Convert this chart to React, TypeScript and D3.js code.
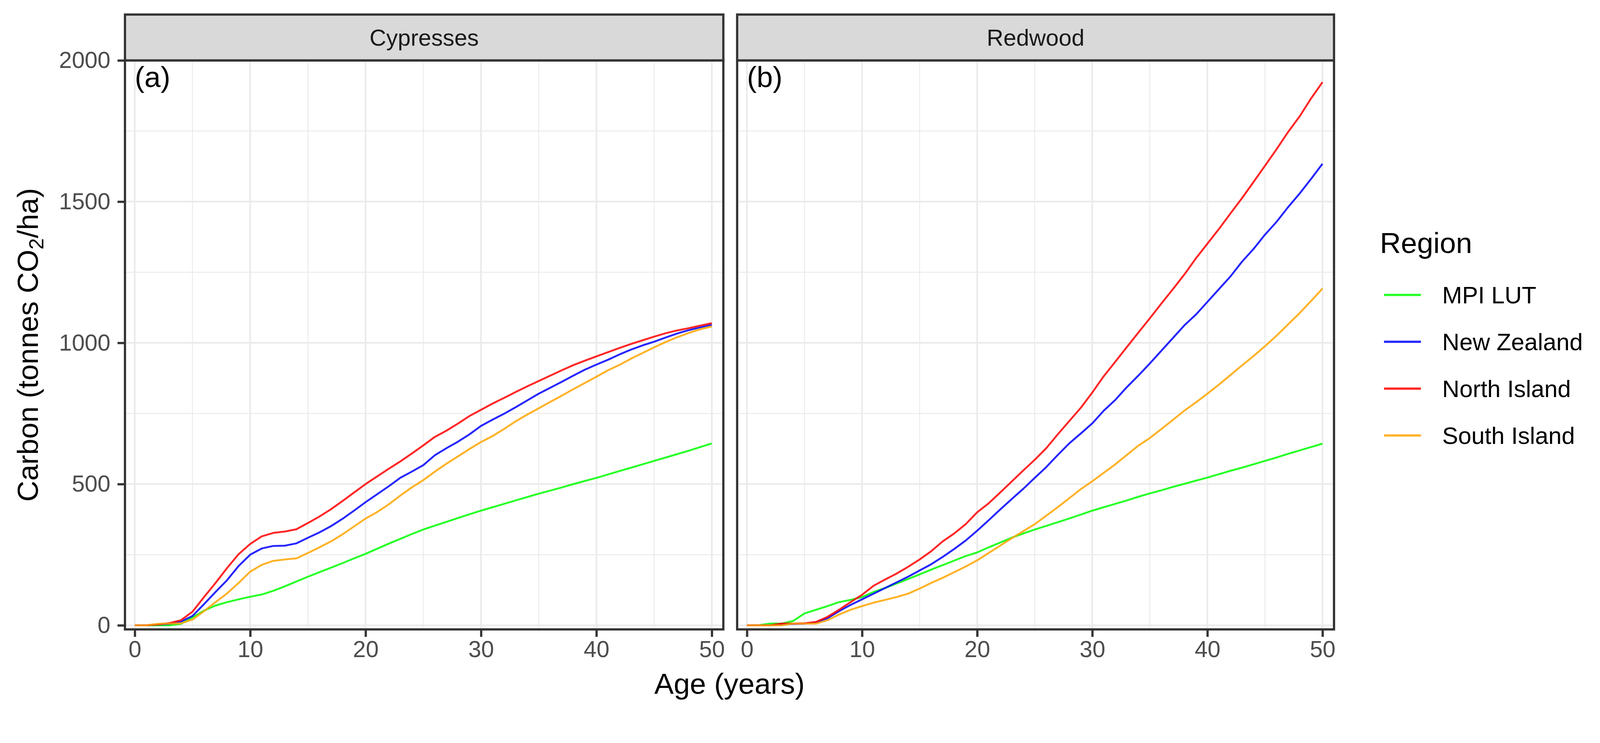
import { useEffect, useRef } from 'react';
import * as d3 from 'd3';

// Stand age in years (x values shared by every series)
const AGES = [
  0, 1, 2, 3, 4, 5, 6, 7, 8, 9, 10, 11, 12, 13, 14, 15, 16, 17, 18, 19, 20,
  21, 22, 23, 24, 25, 26, 27, 28, 29, 30, 31, 32, 33, 34, 35, 36, 37, 38, 39, 40,
  41, 42, 43, 44, 45, 46, 47, 48, 49, 50,
];

const REGIONS = ['MPI LUT', 'New Zealand', 'North Island', 'South Island'];
const REGION_COLORS = ['#00FF00', '#0000FF', '#FF0000', '#FFA500'];
const PANELS = ['Cypresses', 'Redwood'];
const PANEL_TAGS = ['(a)', '(b)'];
const X_TICKS = [0, 10, 20, 30, 40, 50];
const X_MINOR = [5, 15, 25, 35, 45];
const Y_TICKS = [0, 500, 1000, 1500, 2000];
const Y_MINOR = [250, 750, 1250, 1750];

// Cypresses, carbon (tonnes CO2/ha) by age
const CYP_MPI = [
  0, 0, 0, 0, 5, 28, 52, 70, 82, 92, 101, 109, 122, 138, 155, 172, 188, 204, 220, 237, 253,
  271, 289, 306, 323, 339, 353, 366, 380, 393, 406, 418, 430, 442, 454, 466, 477, 488, 500, 511, 522,
  534, 546, 558, 570, 582, 594, 606, 618, 631, 644,
];
const CYP_NZ = [
  0, 0, 3, 5, 13, 33, 75, 118, 160, 210, 250, 272, 281, 282, 290, 310, 329, 351, 377, 406, 436,
  464, 492, 522, 544, 567, 602, 627, 650, 676, 706, 728, 749, 772, 796, 820, 841, 862, 884, 905, 923,
  940, 959, 976, 991, 1004, 1019, 1033, 1045, 1055, 1064,
];
const CYP_NI = [
  0, 0, 3, 8, 18, 48, 100, 150, 203, 252, 288, 315, 327, 332, 340, 362, 385, 411, 440, 470, 500,
  527, 554, 580, 608, 637, 667, 689, 714, 741, 763, 785, 805, 826, 846, 865, 884, 903, 921, 937, 952,
  967, 982, 996, 1009, 1022, 1034, 1044, 1052, 1061, 1070,
];
const CYP_SI = [
  0, 0, 5, 6, 7, 20, 50, 82, 113, 150, 190, 214, 228, 233, 237, 256, 276, 297, 322, 350, 378,
  401, 428, 459, 488, 514, 544, 572, 598, 624, 649, 670, 695, 722, 746, 768, 791, 813, 836, 858, 880,
  903, 922, 944, 964, 984, 1003, 1020, 1035, 1048, 1058,
];

// Redwood, carbon (tonnes CO2/ha) by age
const RW_MPI = [
  0, 0, 6, 6, 15, 42, 55, 68, 82, 90, 100, 118, 132, 148, 164, 180, 197, 213, 229, 245, 258,
  276, 293, 310, 325, 339, 352, 365, 378, 392, 406, 418, 430, 442, 455, 467, 478, 490, 501, 512, 523,
  535, 547, 558, 570, 582, 594, 607, 619, 631, 643,
];
const RW_NZ = [
  0, 0, 0, 3, 5, 6, 10, 25, 50, 72, 92, 112, 132, 152, 172, 194, 216, 242, 270, 300, 335,
  372, 410, 447, 483, 522, 560, 603, 644, 679, 715, 760, 798, 843, 884, 927, 972, 1017, 1062, 1100, 1145,
  1190, 1235, 1287, 1332, 1383, 1428, 1480, 1528, 1580, 1634,
];
const RW_NI = [
  0, 0, 0, 6, 6, 7, 12, 30, 55, 82, 108, 140, 162, 183, 207, 233, 262, 297, 325, 358, 400,
  432, 470, 509, 548, 586, 627, 676, 723, 770, 824, 882, 933, 985, 1036, 1087, 1139, 1190, 1242, 1299, 1351,
  1403, 1458, 1512, 1569, 1627, 1685, 1746, 1801, 1865, 1923,
];
const RW_SI = [
  0, 0, 0, 0, 6, 6, 6, 18, 38, 55, 68, 80, 90, 100, 112, 130, 150, 168, 188, 208, 230,
  256, 282, 308, 333, 358, 388, 418, 450, 482, 510, 540, 570, 603, 636, 663, 695, 727, 760, 789, 820,
  852, 886, 920, 953, 988, 1025, 1065, 1105, 1148, 1192,
];

const PANEL_SERIES = [
  [CYP_MPI, CYP_NZ, CYP_NI, CYP_SI],
  [RW_MPI, RW_NZ, RW_NI, RW_SI],
];

const FONT = "'Liberation Sans', Arial, Helvetica, sans-serif";

export default function App() {
  const svgRef = useRef<SVGSVGElement>(null);

  useEffect(() => {
    if (!svgRef.current) return;
    const svg = d3.select(svgRef.current);
    svg.selectAll('*').remove();

    const STRIP_TOP = 39, PANEL_TOP = 162, PANEL_BOTTOM = 1688;
    const boxes = [{ x0: 335, x1: 1939 }, { x0: 1976, x1: 3576 }];
    const BORDER = '#333333';

    const y = d3.scaleLinear().domain([-14.5, 2000]).range([PANEL_BOTTOM, PANEL_TOP]);

    PANELS.forEach((name, i) => {
      const { x0, x1 } = boxes[i];
      const x = d3.scaleLinear().domain([-0.85, 51]).range([x0, x1]);
      const g = svg.append('g');

      g.append('rect')
        .attr('x', x0).attr('y', PANEL_TOP)
        .attr('width', x1 - x0).attr('height', PANEL_BOTTOM - PANEL_TOP)
        .attr('fill', '#FFFFFF');

      // Grid
      const grid = g.append('g').attr('stroke', '#EBEBEB');
      X_MINOR.forEach((t) => grid.append('line')
        .attr('x1', x(t)).attr('x2', x(t)).attr('y1', PANEL_TOP).attr('y2', PANEL_BOTTOM)
        .attr('stroke-width', 2.5));
      Y_MINOR.forEach((t) => grid.append('line')
        .attr('x1', x0).attr('x2', x1).attr('y1', y(t)).attr('y2', y(t))
        .attr('stroke-width', 2.5));
      X_TICKS.forEach((t) => grid.append('line')
        .attr('x1', x(t)).attr('x2', x(t)).attr('y1', PANEL_TOP).attr('y2', PANEL_BOTTOM)
        .attr('stroke-width', 4.5));
      Y_TICKS.forEach((t) => grid.append('line')
        .attr('x1', x0).attr('x2', x1).attr('y1', y(t)).attr('y2', y(t))
        .attr('stroke-width', 4.5));

      // Lines
      const line = d3.line<number>()
        .x((_, k) => x(AGES[k]))
        .y((d) => y(d));
      PANEL_SERIES[i].forEach((vals, s) => {
        g.append('path')
          .datum(vals)
          .attr('d', line)
          .attr('fill', 'none')
          .attr('stroke', REGION_COLORS[s])
          .attr('stroke-opacity', 0.85)
          .attr('stroke-width', 5)
          .attr('stroke-linejoin', 'round');
      });

      // Panel tag
      g.append('text')
        .attr('x', x(0)).attr('y', 233)
        .attr('font-family', FONT).attr('font-size', 78)
        .attr('fill', '#000000')
        .text(PANEL_TAGS[i]);

      // Border
      g.append('rect')
        .attr('x', x0).attr('y', PANEL_TOP)
        .attr('width', x1 - x0).attr('height', PANEL_BOTTOM - PANEL_TOP)
        .attr('fill', 'none').attr('stroke', BORDER).attr('stroke-width', 6);

      // Strip
      g.append('rect')
        .attr('x', x0).attr('y', STRIP_TOP)
        .attr('width', x1 - x0).attr('height', PANEL_TOP - STRIP_TOP)
        .attr('fill', '#D9D9D9').attr('stroke', BORDER).attr('stroke-width', 6);
      g.append('text')
        .attr('x', (x0 + x1) / 2).attr('y', 123)
        .attr('text-anchor', 'middle')
        .attr('font-family', FONT).attr('font-size', 62)
        .attr('fill', '#1A1A1A')
        .text(name);

      // X axis
      const xAxis = g.append('g')
        .attr('transform', `translate(0,${PANEL_BOTTOM})`)
        .call(d3.axisBottom(x).tickValues(X_TICKS).tickFormat(d3.format('d')).tickSize(20).tickPadding(10));
      xAxis.select('.domain').remove();
      xAxis.selectAll('line').attr('stroke', BORDER).attr('stroke-width', 6);
      xAxis.selectAll('text')
        .attr('font-family', FONT).attr('font-size', 62).attr('fill', '#4D4D4D');

      // Y axis only on the first panel
      if (i === 0) {
        const yAxis = g.append('g')
          .attr('transform', `translate(${x0},0)`)
          .call(d3.axisLeft(y).tickValues(Y_TICKS).tickFormat(d3.format('d')).tickSize(20).tickPadding(19));
        yAxis.select('.domain').remove();
        yAxis.selectAll('line').attr('stroke', BORDER).attr('stroke-width', 6);
        yAxis.selectAll('text')
          .attr('font-family', FONT).attr('font-size', 62).attr('fill', '#4D4D4D');
      }
    });

    // Axis titles
    svg.append('text')
      .attr('x', (boxes[0].x0 + boxes[1].x1) / 2).attr('y', 1861)
      .attr('text-anchor', 'middle')
      .attr('font-family', FONT).attr('font-size', 78).attr('fill', '#000000')
      .text('Age (years)');

    const yTitle = svg.append('text')
      .attr('transform', `translate(102,${(PANEL_TOP + PANEL_BOTTOM) / 2}) rotate(-90)`)
      .attr('text-anchor', 'middle')
      .attr('font-family', FONT).attr('font-size', 78).attr('fill', '#000000');
    yTitle.append('tspan').text('Carbon (tonnes CO');
    yTitle.append('tspan').attr('font-size', 55).attr('dy', 14).text('2');
    yTitle.append('tspan').attr('dy', -14).text('/ha)');

    // Legend
    const legend = svg.append('g');
    legend.append('text')
      .attr('x', 3699).attr('y', 679)
      .attr('font-family', FONT).attr('font-size', 78).attr('fill', '#000000')
      .text('Region');
    const keyY = d3.scalePoint<string>().domain(REGIONS).range([791, 1168]);
    REGIONS.forEach((r, k) => {
      const ky = keyY(r)!;
      legend.append('line')
        .attr('x1', 3710).attr('x2', 3809).attr('y1', ky).attr('y2', ky)
        .attr('stroke', REGION_COLORS[k]).attr('stroke-opacity', 0.85).attr('stroke-width', 6);
      legend.append('text')
        .attr('x', 3866).attr('y', ky + 23)
        .attr('font-family', FONT).attr('font-size', 64).attr('fill', '#000000')
        .text(r);
    });
  }, []);

  return (
    <svg
      ref={svgRef}
      viewBox="0 0 4289 1903"
      preserveAspectRatio="xMinYMin meet"
      style={{ position: 'absolute', left: 0, top: 0, width: '100vw', height: '100vh', background: '#FFFFFF' }}
    />
  );
}
